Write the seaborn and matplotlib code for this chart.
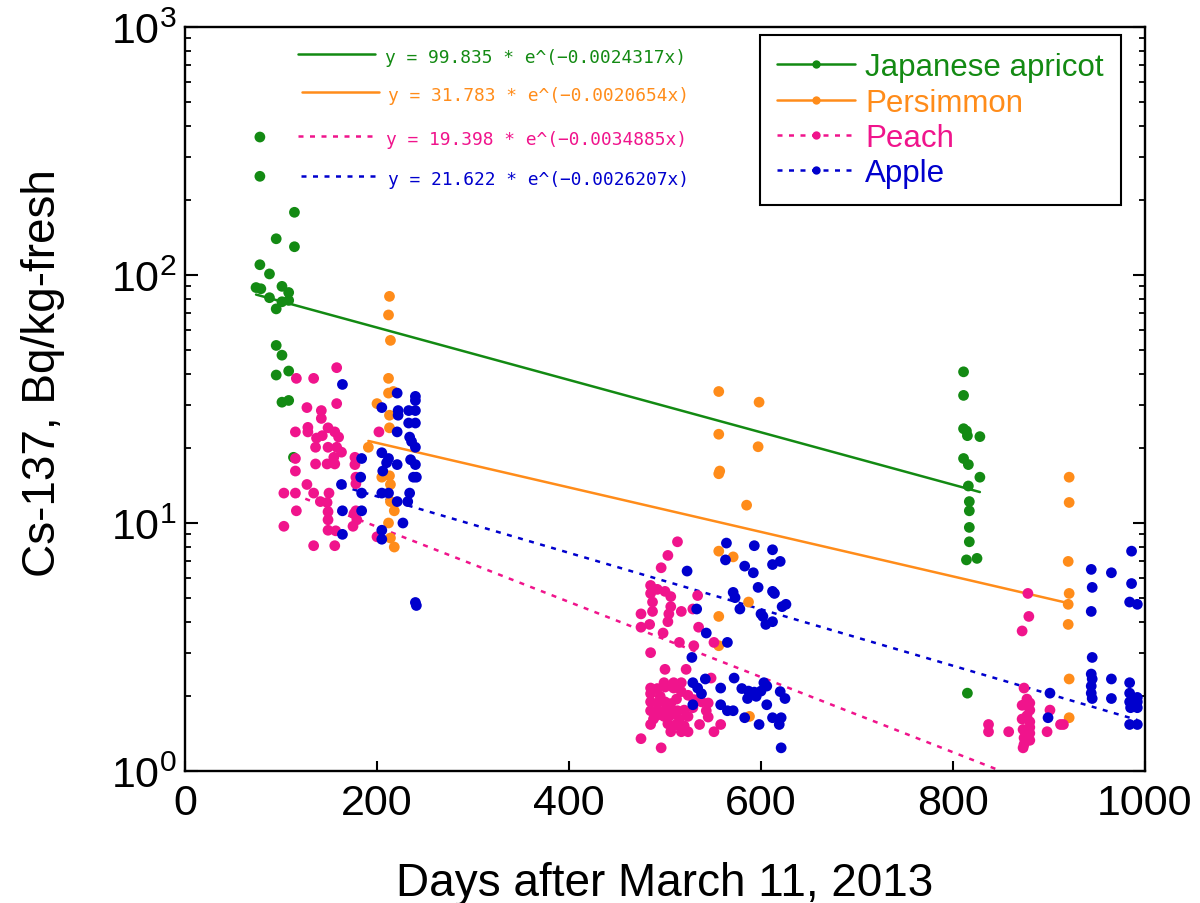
import numpy as np
import pandas as pd
import matplotlib
matplotlib.use("Agg")
import matplotlib.pyplot as plt
from matplotlib.lines import Line2D
from matplotlib.ticker import LogLocator, FuncFormatter, MultipleLocator, NullFormatter
import seaborn as sns

# ---- series -------------------------------------------------------------
fruits = ["Japanese apricot", "Persimmon", "Peach", "Apple"]
colors = ["#138a13", "#ff8c1a", "#f0148c", "#0000cd"]

apricot_days = [78, 78, 114, 95, 114, 78, 88, 74, 79, 101, 108, 88, 101, 108, 95,
                95, 101, 108, 95, 101, 108, 113,
                811, 811, 811, 814, 815, 828, 811, 816, 828, 816, 817, 817, 817,
                817, 814, 825, 815]
apricot_cs = [360, 250, 179, 140, 130, 110, 101, 89, 88, 90, 85, 81, 78, 79, 73,
              52, 47.5, 41, 39.5, 30.7, 31.2, 18.4,
              40.7, 32.7, 24, 23.5, 22.5, 22.3, 18.2, 17.2, 15.3, 14.1, 12.2, 11.2, 9.6,
              8.4, 7.1, 7.2, 2.06]

persimmon_days = [213, 212, 214, 212, 212, 217, 200, 213, 213, 191, 205, 213, 214,
                  214, 218, 212, 214, 218,
                  556, 598, 556, 597, 556, 557, 585, 556, 571, 587, 556, 556, 588,
                  921, 921, 920, 921, 920, 920, 921, 921]
persimmon_cs = [82, 69, 54.5, 38.3, 33.4, 33.9, 30.3, 27.2, 24.2, 20.2, 15.3, 15.5, 14.3,
                12.2, 11.2, 10.0, 8.7, 8.0,
                33.9, 30.7, 22.8, 20.3, 15.8, 16.2, 11.8, 7.7, 7.3, 4.8, 4.2, 3.2, 1.66,
                15.3, 12.1, 7.0, 5.2, 4.7, 3.9, 2.35, 1.64]

peach_days = [158, 116, 134, 127, 142, 158, 142, 128, 128, 115, 149, 156, 137, 143,
              160, 136, 149, 158, 163, 155, 115, 136, 148, 156, 177, 177, 115, 178,
              178, 103, 115, 127, 134, 150, 141, 148, 178, 176, 116, 149, 149, 175,
              179, 103, 149, 157, 202, 200, 134, 156,
              513, 503, 496, 485, 492, 500, 485, 506, 534, 487, 506, 517, 475, 487,
              504, 529, 503, 475, 484, 535, 498, 515, 530, 551, 485, 500, 522, 548,
              485, 485, 499, 509, 517, 492, 500, 509, 517, 524, 530, 485, 492, 500,
              506, 538, 545, 485, 492, 499, 506, 513, 520, 543, 545, 492, 499, 506,
              515, 524, 485, 503, 510, 536, 558, 506, 517, 524, 551, 475, 496, 495,
              512, 488, 529, 520,
              874, 877, 880, 872, 880, 877, 872, 880, 880, 873, 880, 874, 880, 874,
              873, 878, 879, 872, 901, 912, 915, 898, 837, 837, 858]
peach_cs = [42.3, 38.3, 38.3, 29.2, 28.4, 30.3, 26.4, 24.3, 23.3, 23.3, 24.2, 23.3, 22.0, 22.5,
            22.2, 20.2, 20.2, 20.2, 19.3, 18.4, 18.2, 17.3, 17.3, 17.3, 18.4, 17.2, 16.2, 15.3,
            14.4, 13.2, 13.2, 14.3, 13.2, 13.2, 12.2, 12.1, 11.2, 10.9, 11.2, 11.1, 10.3, 9.7,
            10.3, 9.7, 9.35, 9.3, 23.3, 8.8, 8.1, 8.1,
            8.4, 7.4, 6.6, 5.6, 5.4, 5.3, 5.2, 5.05, 5.1, 4.8, 4.6, 4.4, 4.3, 4.4,
            4.3, 4.5, 4.0, 3.8, 3.9, 3.8, 3.6, 3.3, 3.2, 3.3, 3.0, 2.57, 2.57, 2.37,
            2.16, 2.05, 2.27, 2.27, 2.27, 2.15, 2.18, 2.16, 2.09, 2.02, 1.94, 1.9, 1.88, 1.9,
            1.87, 1.9, 1.88, 1.75, 1.76, 1.75, 1.75, 1.75, 1.76, 1.75, 1.65, 1.68, 1.66, 1.68,
            1.62, 1.66, 1.54, 1.55, 1.53, 1.54, 1.54, 1.44, 1.44, 1.44, 1.44, 1.35, 1.24, 2.0,
            1.95, 1.62, 1.8, 1.52,
            2.16, 1.95, 1.88, 1.84, 1.76, 1.67, 1.62, 1.58, 1.5, 1.47, 1.42, 1.36, 1.33, 1.28,
            1.24, 5.2, 4.2, 3.67, 1.76, 1.54, 1.54, 1.44, 1.54, 1.44, 1.44]

apple_days = [164, 221, 240, 240, 205, 222, 222, 233, 240, 233, 240, 221, 234, 236,
              240, 205, 184, 212, 210, 221, 235, 240, 206, 183, 238, 241, 163, 184,
              205, 212, 234, 221, 232, 164, 184, 227, 164, 205, 205, 240, 241,
              564, 593, 612, 620, 612, 563, 583, 523, 592, 597, 612, 614, 571, 573,
              622, 626, 533, 578, 600, 602, 612, 605, 543, 565, 528,
              542, 572, 529, 534, 538, 558, 580, 587, 593, 600, 606, 603, 620, 625,
              586, 595, 529, 558, 565, 571, 606, 583, 612, 621, 598, 619, 621,
              986, 944, 965, 945, 986, 984, 992, 944, 945, 944, 945, 944, 944, 945,
              965, 965, 901, 899, 984, 984, 992, 984, 992, 985, 992, 984, 992]
apple_cs = [36.2, 33.4, 32.4, 31.2, 29.2, 28.4, 27.2, 28.4, 28.4, 25.3, 25.3, 23.3, 22.2, 21.3,
            20.2, 19.2, 18.2, 18.2, 17.5, 17.2, 18.0, 17.2, 16.2, 15.3, 15.3, 15.3, 14.3, 13.2,
            13.2, 13.2, 13.2, 12.2, 12.2, 11.2, 11.2, 10.0, 9.0, 9.35, 8.6, 4.78, 4.65,
            8.3, 8.1, 7.8, 7.0, 6.8, 7.1, 6.7, 6.4, 6.3, 5.5, 5.3, 5.2, 5.25, 5.0,
            4.6, 4.7, 4.5, 4.5, 4.3, 4.2, 4.0, 3.9, 3.6, 3.3, 2.87,
            2.35, 2.37, 2.27, 2.16, 2.05, 2.16, 2.15, 2.1, 2.08, 2.1, 2.2, 2.27, 2.09, 1.96,
            1.96, 2.0, 1.85, 1.85, 1.75, 1.75, 1.85, 1.64, 1.64, 1.64, 1.54, 1.54, 1.24,
            7.7, 6.5, 6.3, 5.5, 5.7, 4.8, 4.7, 4.4, 2.87, 2.46, 2.35, 2.2, 2.06, 1.96,
            2.35, 1.96, 2.06, 1.64, 2.27, 2.06, 1.98, 1.9, 1.9, 1.8, 1.8, 1.54, 1.54]

# exponential fits y = a * exp(-k x)
fit_a = [99.835, 31.783, 19.398, 21.622]
fit_k = [0.0024317, 0.0020654, 0.0034885, 0.0026207]

all_days = [apricot_days, persimmon_days, peach_days, apple_days]
all_cs = [apricot_cs, persimmon_cs, peach_cs, apple_cs]

frames = [pd.DataFrame({"days": d, "cs": c, "fruit": f})
          for d, c, f in zip(all_days, all_cs, fruits)]
df = pd.concat(frames, ignore_index=True)

# ---- style --------------------------------------------------------------
sns.set_style("white")
plt.rcParams["font.family"] = ["Liberation Sans", "DejaVu Sans"]
plt.rcParams["mathtext.default"] = "regular"
plt.rcParams["text.color"] = "black"
plt.rcParams["axes.labelcolor"] = "black"
plt.rcParams["xtick.color"] = "black"
plt.rcParams["ytick.color"] = "black"

W, H = 1200, 904
fig = plt.figure(figsize=(W / 100, H / 100), dpi=100)
ax = fig.add_axes([185 / W, 1 - 772 / H, 960 / W, 744 / H])

dotted = (0, (2.0, 2.6))
styles = ["-", "-", dotted, dotted]

# fitted decay lines over each series' day range
for d, a, k, c, ls in zip(all_days, fit_a, fit_k, colors, styles):
    xs = np.linspace(min(d), max(d), 60)
    sns.lineplot(x=xs, y=a * np.exp(-k * xs), color=c, linewidth=1.8,
                 linestyle=ls, ax=ax, zorder=2)

sns.scatterplot(data=df, x="days", y="cs", hue="fruit", hue_order=fruits,
                palette=colors, s=60, linewidth=0, legend=False, ax=ax, zorder=3)

ax.set_yscale("log")
ax.set_xlim(0, 1000)
ax.set_ylim(1, 1000)

ax.xaxis.set_major_locator(MultipleLocator(200))
ax.yaxis.set_major_locator(LogLocator(base=10, numticks=10))
ax.yaxis.set_minor_locator(LogLocator(base=10, subs=np.arange(2, 10), numticks=20))
ax.yaxis.set_minor_formatter(NullFormatter())
ax.yaxis.set_major_formatter(FuncFormatter(lambda v, p: r"$10^{%d}$" % round(np.log10(v))))

ax.tick_params(axis="x", which="both", direction="in", bottom=True, top=False,
               length=7, width=1.5, labelsize=31, pad=9)
ax.tick_params(axis="y", which="major", direction="in", left=True, right=True,
               length=9, width=1.5, labelsize=31, pad=6)
ax.tick_params(axis="y", which="minor", direction="in", left=True, right=True,
               length=4.5, width=1.3)

for sp in ax.spines.values():
    sp.set_visible(True)
    sp.set_color("black")
    sp.set_linewidth(1.7)

ax.set_xlabel("Days after March 11, 2013", fontsize=33, labelpad=27)
ax.set_ylabel("Cs-137, Bq/kg-fresh", fontsize=33)
ax.yaxis.set_label_coords(-0.125, 0.536)

# fit equations with line samples
eq_rows = [(298, 375, 55, 385), (302, 379, 93, 388), (298, 377, 137, 386), (301, 379, 177, 388)]
for (x0, x1, y, tx), a, k, c, ls in zip(eq_rows, fit_a, fit_k, colors, styles):
    fig.add_artist(Line2D([x0 / W, x1 / W], [1 - y / H, 1 - y / H], color=c,
                          linewidth=1.8, linestyle=ls))
    fig.text(tx / W, 1 - (y + 3) / H, f"y = {a:.3f} * e^(\u2212{k:.7f}x)", color=c,
             fontsize=12.9, family="DejaVu Sans Mono", va="center", ha="left")

handles = [Line2D([], [], color=c, linestyle=ls, linewidth=1.8, marker="o",
                  markersize=6, markeredgewidth=0) for c, ls in zip(colors, styles)]
leg = ax.legend(handles, fruits, loc="upper right",
                bbox_to_anchor=(1121 / W, 1 - 36 / H), bbox_transform=fig.transFigure,
                borderaxespad=0, fontsize=22.5, handlelength=2.5, handletextpad=0.33,
                labelspacing=0.17, borderpad=0.55, numpoints=1, frameon=True,
                fancybox=False, framealpha=1, edgecolor="black", labelcolor=colors)
leg.get_frame().set_linewidth(1.5)

fig.savefig("out.png", dpi=100)
